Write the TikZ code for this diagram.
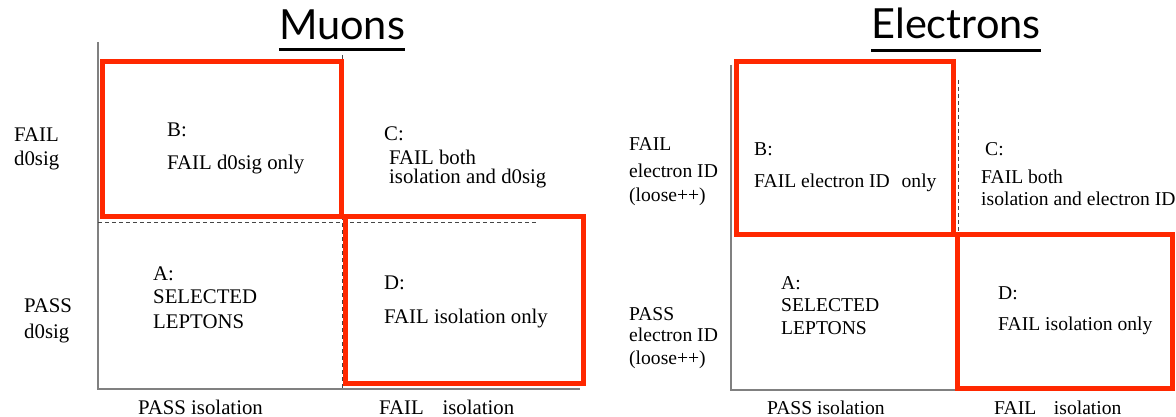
\documentclass[tikz,border=0pt]{standalone}
\usepackage{fontspec}
\setmainfont{Liberation Serif}
\newfontfamily\titlefont{Lato}
\usetikzlibrary{calc}

\definecolor{boxred}{RGB}{255,40,0}
\definecolor{axisgray}{RGB}{128,128,128}
\definecolor{dashgray}{RGB}{70,70,70}

\tikzset{
  lbl/.style={inner sep=0pt, anchor=base west, font=\fontsize{20.8}{25}\selectfont},
  elbl/.style={inner sep=0pt, anchor=base west, font=\fontsize{19.6}{24}\selectfont},
  title/.style={inner sep=0pt, anchor=base, font=\titlefont\fontsize{41.5}{46}\selectfont},
  underline/.style={line width=3pt, black},
  axis/.style={axisgray, line width=1.3pt},
  divider/.style={dashgray, line width=1pt, dash pattern=on 4pt off 3pt},
  regionbox/.style={boxred, line width=5pt, line join=miter}
}

\begin{document}
\begin{tikzpicture}[x=1pt,y=-1pt]
\useasboundingbox (0,0) rectangle (1176,417);

% ---------------- Muons ----------------
\node[title] (tMu) at (342,40) {Muons};
\draw[underline] ($(tMu.base west)+(0,10)$) -- ($(tMu.base east)+(0,10)$);

% axes
\coordinate (muTop) at (98,42);
\coordinate (muOrig) at (98,389);
\coordinate (muEnd) at (580,389);
\draw[axis] (muTop) -- (muOrig) -- (muEnd);

% dashed dividers
\coordinate (muH1) at (98,222);
\coordinate (muH2) at (538,222);
\coordinate (muV1) at (342,55);
\coordinate (muV2) at (342,389);
\draw[divider] (muH1) -- (muH2);
\draw[divider] (muV1) -- (muV2);

% highlighted regions
\draw[regionbox] (102,62) rectangle (341,216);
\draw[regionbox] (345,216) rectangle (583,383);

% row labels
\node[lbl] (muFail1) at (14,142) {FAIL};
\node[lbl] (muFail2) at (14,166) {d0sig};
\node[lbl] (muPass1) at (24,312) {PASS};
\node[lbl] (muPass2) at (24,338) {d0sig};

% region texts
\node[lbl] (muB1) at (167,137) {B:};
\node[lbl] (muB2) at (167,170) {FAIL d0sig only};
\node[lbl] (muC1) at (384,141) {C:};
\node[lbl] (muC2) at (389,165) {FAIL both};
\node[lbl] (muC3) at (389,184) {isolation and d0sig};
\node[lbl] (muA1) at (153,280) {A:};
\node[lbl] (muA2) at (153,303) {SELECTED};
\node[lbl] (muA3) at (153,328) {LEPTONS};
\node[lbl] (muD1) at (384,289) {D:};
\node[lbl] (muD2) at (384,323) {FAIL isolation only};

% column labels
\node[lbl] (muCol1) at (138,414) {PASS isolation};
\node[lbl] (muCol2) at (379,414) {FAIL\hspace{0.9em}isolation};

% ---------------- Electrons ----------------
\node[title] (tEl) at (956,39) {Electrons};
\draw[underline] ($(tEl.base west)+(0,12)$) -- ($(tEl.base east)+(0,12)$);

% axes
\coordinate (elTop) at (731,65);
\coordinate (elOrig) at (731,390);
\coordinate (elEnd) at (957,390);
\draw[axis] (elTop) -- (elOrig) -- (elEnd);

% dashed divider
\coordinate (elV1) at (958,80);
\coordinate (elV2) at (958,234);
\draw[divider] (elV1) -- (elV2);

% highlighted regions
\draw[regionbox] (736,62) rectangle (953,234);
\draw[regionbox] (957,234) rectangle (1172,388);

% row labels
\node[elbl] (elFail1) at (629,151) {FAIL};
\node[elbl] (elFail2) at (629,178) {electron ID};
\node[elbl] (elFail3) at (629,201) {(loose++)};
\node[elbl] (elPass1) at (629,320) {PASS};
\node[elbl] (elPass2) at (629,341) {electron ID};
\node[elbl] (elPass3) at (629,364) {(loose++)};

% region texts
\node[elbl] (elB1) at (754,156) {B:};
\node[elbl] (elB2) at (754,188) {FAIL electron ID\hspace{0.6em}only};
\node[elbl] (elC1) at (985,156) {C:};
\node[elbl] (elC2) at (981,183) {FAIL both};
\node[elbl] (elC3) at (981,205) {isolation and electron ID};
\node[elbl] (elA1) at (781,289) {A:};
\node[elbl] (elA2) at (781,311) {SELECTED};
\node[elbl] (elA3) at (781,334) {LEPTONS};
\node[elbl] (elD1) at (998,299) {D:};
\node[elbl] (elD2) at (998,330) {FAIL isolation only};

% column labels
\node[elbl] (elCol1) at (767,414) {PASS isolation};
\node[elbl] (elCol2) at (994,414) {FAIL\hspace{0.9em}isolation};
\end{tikzpicture}
\end{document}
